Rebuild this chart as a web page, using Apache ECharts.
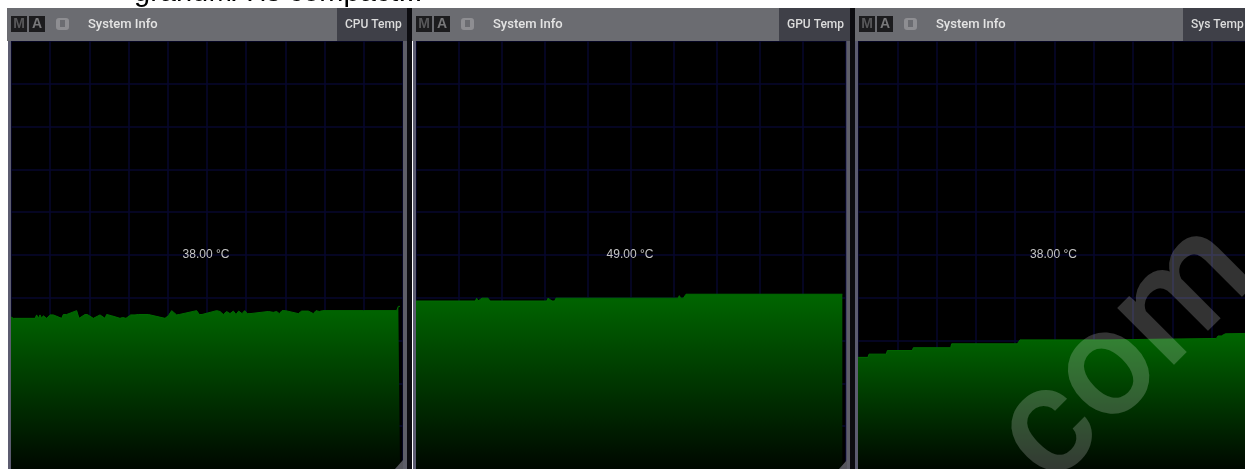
<!DOCTYPE html>
<html><head><meta charset="utf-8">
<style>html,body{margin:0;padding:0;background:#fff;overflow:hidden}#c{width:1245px;height:469px;filter:blur(0.5px)}</style>
<script src="https://cdn.jsdelivr.net/npm/echarts@6/dist/echarts.min.js"></script>
</head><body><div id="c"></div>
<script>
const cpuTime=[0,7,72,77,82,87,92,97,107,117,127,152,157,167,197,204,210,222,229,247,252,267,282,287,292,302,327,335,345,359,372,382,412,462,472,482,497,505,557,565,573,617,627,637,647,657,667,675,683,693,701,709,717,772,787,797,805,813,823,862,872,892,907,915,925,935,942,1047,1057,1157,1162,1167];
const cpuTemp=[35.5,35.2,35.2,36,35.2,36,35.2,35.8,35.2,36,36,35.2,36.1,36.1,37,35.2,35.4,36.1,36.1,35.2,35.1,36,35.2,36.1,36.1,35.8,35.2,35.4,35.2,36,36,36.1,36.1,35.2,35.8,37,36,36.1,37,36.1,36.1,37,36.8,36.1,36.8,36.3,36.9,36.1,36.9,36.3,37,36.3,36.3,36.8,36.6,36.8,36.3,37,37,36.3,36.9,36.9,36.3,37,36.8,37,37,37,37,37,38,38];
const gpuTime=[0,178,182,186,198,204,216,222,392,396,402,408,416,420,786,790,794,802,810,1279];
const gpuTemp=[47.1,47.1,47.9,47.1,47.9,47.9,47.9,47.1,47.1,47.9,47.9,47.1,47.1,47.9,47.9,48.6,47.9,47.9,49,49];
const sysTime=[0,30,33,85,88,163,166,278,281,478,486,750,756,1075,1080,1090,1096,1102,1161];
const sysTemp=[31.3,31.3,32.2,32.2,33.2,33.2,34,34,35.1,35.1,36.2,36.2,36.6,36.6,37.3,37.3,37.8,37.9,38];
const panelNames=["CPU Temp","GPU Temp","Sys Temp"];
const readouts=["38.00 °C","49.00 °C","38.00 °C"];
const axisMax=[100,120,120];
const timeMax=[1176,1290,1179];
const series=[[cpuTime,cpuTemp],[gpuTime,gpuTemp],[sysTime,sysTemp]];

const layout=[
 {outer:7,left:11,width:392,right:407,tab:337,endBar:403},
 {outer:412,left:416,width:430,right:850,tab:779,endBar:847},
 {outer:855,left:858,width:393,right:1245,tab:1183,endBar:null}
];
const font='"Liberation Sans",Arial,sans-serif';
const graphic=[];
const grids=[],xAxes=[],yAxes=[],seriesList=[];
layout.forEach((p,i)=>{
 grids.push({left:p.left,top:41,width:p.width,height:428,show:true,backgroundColor:'#000',borderWidth:0,containLabel:false,outerBoundsMode:'none'});
 const split={show:true,lineStyle:{color:'#07072e',width:1.5}};
 xAxes.push({type:'value',gridIndex:i,min:0,max:timeMax[i],interval:timeMax[i]/10,axisLine:{show:false},axisTick:{show:false},axisLabel:{show:false},splitLine:split});
 yAxes.push({type:'value',gridIndex:i,min:0,max:axisMax[i],interval:axisMax[i]/10,axisLine:{show:false},axisTick:{show:false},axisLabel:{show:false},splitLine:split});
 seriesList.push({type:'line',xAxisIndex:i,yAxisIndex:i,showSymbol:false,silent:true,animation:false,
  data:series[i][0].map((t,k)=>[t,series[i][1][k]]),
  lineStyle:{color:'#006a00',width:1},
  areaStyle:{opacity:1,color:{type:'linear',x:0,y:0,x2:0,y2:1,colorStops:[{offset:0,color:'#006600'},{offset:1,color:'#000800'}]}}});
 graphic.push({type:'rect',z:10,shape:{x:p.outer,y:8,width:p.right-p.outer,height:33},style:{fill:'#6b6c71'}});
 graphic.push({type:'rect',z:11,shape:{x:p.tab,y:8,width:p.right-p.tab,height:33},style:{fill:'#3f4048'}});
 graphic.push({type:'rect',z:12,shape:{x:p.left-3,y:41,width:3,height:428},style:{fill:'#5c5c70'}});
 if(p.endBar!==null){graphic.push({type:'rect',z:12,shape:{x:p.endBar,y:41,width:4,height:428},style:{fill:'#5e5e68'}});
  graphic.push({type:'polygon',z:12,shape:{points:[[p.endBar-8,469],[p.endBar,460],[p.endBar,469]]},style:{fill:'#55555c'}});}
 const bx=p.outer+4;
 graphic.push({type:'rect',z:13,shape:{x:bx,y:16,width:16,height:16},style:{fill:'#1c1c1e'}});
 graphic.push({type:'rect',z:13,shape:{x:bx+18,y:16,width:16,height:16},style:{fill:'#1c1c1e'}});
 graphic.push({type:'text',z:14,style:{x:bx+8,y:24,text:'M',fill:'#58585a',font:'bold 14px '+font,align:'center',verticalAlign:'middle'}});
 graphic.push({type:'text',z:14,style:{x:bx+26,y:24,text:'A',fill:'#78787a',font:'bold 14px '+font,align:'center',verticalAlign:'middle'}});
 graphic.push({type:'rect',z:13,shape:{x:p.outer+49,y:18,width:13,height:12,r:3},style:{fill:'#8e8e92'}});
 graphic.push({type:'rect',z:14,shape:{x:p.outer+53,y:20,width:5,height:7},style:{fill:'#6b6c71'}});
 graphic.push({type:'text',z:14,style:{x:p.outer+81,y:25,text:'System Info',fill:'#e4e4e4',font:'500 13px Roboto,'+font,verticalAlign:'middle'}});
 graphic.push({type:'text',z:14,style:{x:p.tab+8,y:25,text:panelNames[i],fill:'#dcdcdc',font:'500 12px Roboto,'+font,verticalAlign:'middle'}});
 graphic.push({type:'text',z:14,style:{x:p.left+p.width/2-1,y:255,text:readouts[i],fill:'#c4c4c4',font:'12px '+font,align:'center',verticalAlign:'middle'}});
});
[[407,5],[850,5]].forEach(s=>graphic.push({type:'rect',z:12,shape:{x:s[0],y:8,width:s[1],height:461},style:{fill:'#0c0c10'}}));
graphic.push({type:'text',z:20,style:{x:134,y:7,text:'grandMA is compact...',fill:'#000',font:'29px '+font,verticalAlign:'bottom'}});
graphic.push({type:'text',z:30,x:1129,y:356,rotation:Math.PI/4,silent:true,style:{x:0,y:0,text:'com',fill:'rgba(255,255,255,0.2)',font:'500 152px Roboto,'+font,align:'center',verticalAlign:'middle'}});

const chart=echarts.init(document.getElementById('c'),null,{renderer:'canvas'});
chart.setOption({animation:false,backgroundColor:'#fff',grid:grids,xAxis:xAxes,yAxis:yAxes,series:seriesList,graphic:{elements:graphic}});
</script></body></html>
